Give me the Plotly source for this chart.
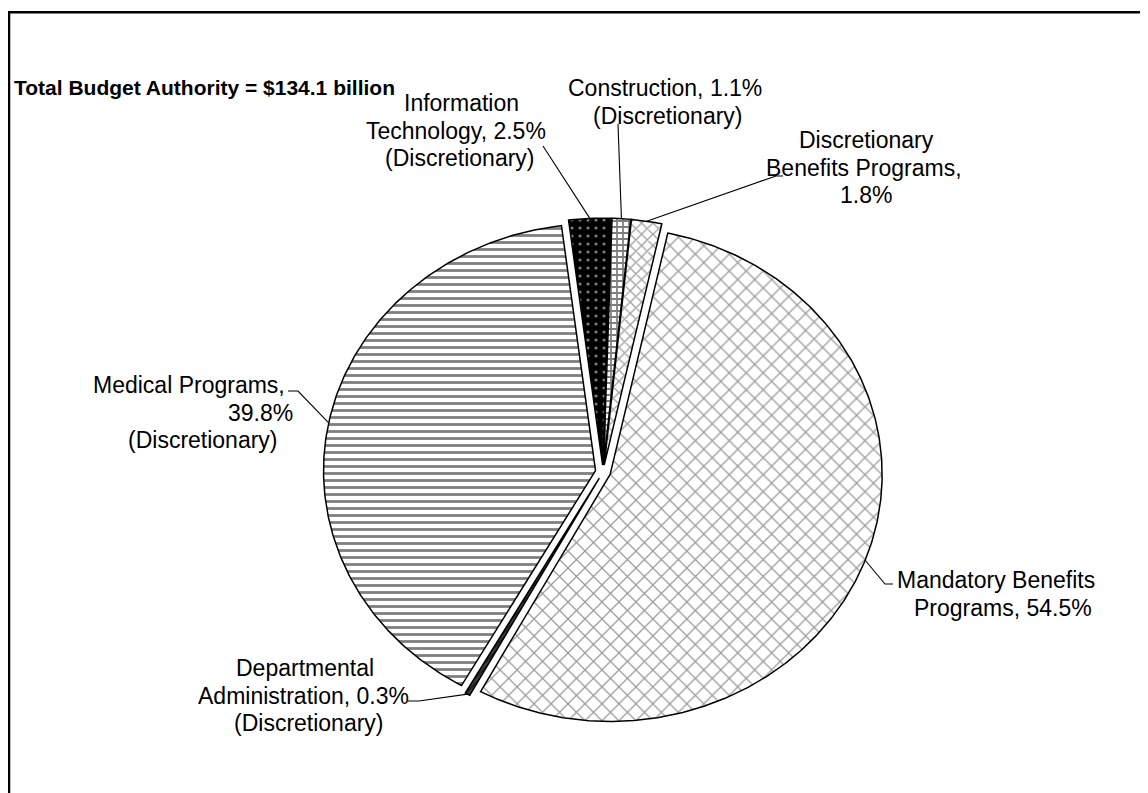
import numpy as np
import plotly.graph_objects as go

# ---------------- data ----------------
categories = ["Information Technology", "Construction", "Discretionary Benefits Programs",
              "Mandatory Benefits Programs", "Departmental Administration", "Medical Programs"]
shares = [2.5, 1.1, 1.8, 54.5, 0.3, 39.8]
label_lines = [
    ["Information", "Technology, 2.5%", "(Discretionary)"],
    ["Construction, 1.1%", "(Discretionary)"],
    ["Discretionary", "Benefits Programs,", "1.8%"],
    ["Mandatory Benefits", "Programs, 54.5%"],
    ["Departmental", "Administration, 0.3%", "(Discretionary)"],
    ["Medical Programs,", "39.8%", "(Discretionary)"],
]
total_text = "Total Budget Authority = $134.1 billion"

# ---------------- styles / layout ----------------
W, H = 1148, 793
OFF = 8                    # page body margin: figure origin sits at (8, 8) on screen
CX, CY = 603, 472          # pie centre, screen px
RX, RY = 272, 247          # pie radii, px (source chart is stretched)
START = -7.2               # degrees clockwise from 12 o'clock
EXPLODE = 0.028
FONT = "Liberation Sans, Arial, sans-serif"
FS = 23
LINE_GAP = 27.5

patterns = [
    dict(shape=".", fgcolor="white", bgcolor="black", size=8, solidity=0.12),
    dict(shape="+", fgcolor="black", bgcolor="white", size=6, solidity=0.5),
    dict(shape="x", fgcolor="#404040", bgcolor="white", size=8, solidity=0.3),
    dict(shape="x", fgcolor="#3a3a3a", bgcolor="white", size=12, solidity=0.2),
    dict(shape="/", fgcolor="black", bgcolor="#444444", size=4, solidity=0.6),
    dict(shape="-", fgcolor="black", bgcolor="white", size=7, solidity=0.4),
]
# per-line label centres (screen px): first-line y and x centre of each line
label_y0 = [103, 88, 140, 580, 668, 385]
label_xc = [[461, 456, 460], [665, 668], [866, 864, 866], [996, 1003],
            [305, 303, 309], [189, 260, 203]]
# leader-line start (screen px) and optional short horizontal tick end
leader_start = [(543, 146), (618, 124), (783, 176), (893, 584), (408, 701), (288, 391)]
leader_tick = [None, None, (776, 176), (885, 584), (419, 701), (298, 391)]


def px2x(px):
    return (px - CX) / RX


def px2y(py):
    return (CY - py) / RY


fig = go.Figure()

total = sum(shares)
a0 = START
mids = []
for i, v in enumerate(shares):
    a1 = a0 + 360.0 * v / total
    m = np.radians((a0 + a1) / 2)
    ox, oy = EXPLODE * np.sin(m), EXPLODE * np.cos(m)
    th = np.radians(np.linspace(a0, a1, max(3, int(abs(a1 - a0) * 2) + 2)))
    xs = np.concatenate([[ox], ox + np.sin(th), [ox]])
    ys = np.concatenate([[oy], oy + np.cos(th), [oy]])
    fig.add_trace(go.Scatter(
        x=xs, y=ys, mode="lines", fill="toself", fillcolor=patterns[i]["bgcolor"],
        fillpattern=patterns[i], line=dict(color="black", width=1.5),
        name=categories[i], hoverinfo="name", showlegend=False))
    mids.append((m, ox, oy))
    a0 = a1

# leader lines + labels
for i, (m, ox, oy) in enumerate(mids):
    ex, ey = ox + np.sin(m), oy + np.cos(m)
    sx, sy = px2x(leader_start[i][0]), px2y(leader_start[i][1])
    path = f"M {sx} {sy} "
    if leader_tick[i] is not None:
        tx, ty = px2x(leader_tick[i][0]), px2y(leader_tick[i][1])
        path += f"L {tx} {ty} "
    path += f"L {ex} {ey}"
    fig.add_shape(type="path", path=path, xref="x", yref="y",
                  line=dict(color="black", width=1.1))
    for j, line in enumerate(label_lines[i]):
        fig.add_annotation(x=px2x(label_xc[i][j]), y=px2y(label_y0[i] + j * LINE_GAP),
                           xref="x", yref="y", text=line, showarrow=False,
                           font=dict(family=FONT, size=FS, color="black"),
                           xanchor="center", yanchor="middle")

fig.add_annotation(x=(12 - OFF) / W, y=1 - (88 - OFF) / H, xref="paper", yref="paper",
                   text=f"<b>{total_text}</b>", showarrow=False, xanchor="left",
                   yanchor="middle", font=dict(family=FONT, size=21, color="black"))

# chart-area border (extends past the visible window on right and bottom)
fig.add_shape(type="rect", xref="paper", yref="paper", x0=1.0 / W, y0=-0.2, x1=1.2,
              y1=1 - 4.2 / H, line=dict(color="black", width=2.5), layer="above")

fig.update_layout(
    width=W, height=H, margin=dict(l=0, r=0, t=0, b=0),
    paper_bgcolor="white", plot_bgcolor="white", showlegend=False,
    xaxis=dict(range=[px2x(OFF), px2x(OFF + W)], visible=False, fixedrange=True),
    yaxis=dict(range=[px2y(OFF + H), px2y(OFF)], visible=False, fixedrange=True),
)

fig.write_html("out.html")
